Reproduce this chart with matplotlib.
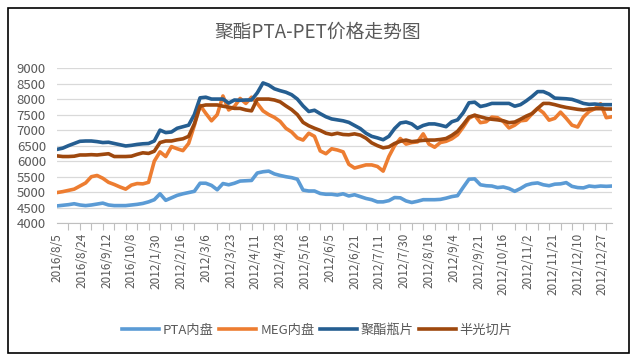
import numpy as np
import matplotlib
matplotlib.use("Agg")
import matplotlib.pyplot as plt
from matplotlib.patches import Rectangle

plt.rcParams["font.family"] = ["Noto Sans CJK SC", "DejaVu Sans"]

# Tick labels (one every 13 trading days)
date_labels = [
    "2016/8/5", "2016/8/24", "2016/9/12", "2016/10/8", "2012/1/30",
    "2012/2/16", "2012/3/6", "2012/3/23", "2012/4/11", "2012/4/28",
    "2012/5/16", "2012/6/5", "2012/6/21", "2012/7/11", "2012/7/30",
    "2012/8/16", "2012/9/4", "2012/9/21", "2012/10/16", "2012/11/2",
    "2012/11/21", "2012/12/10", "2012/12/27",
]

# Prices, one value every 3 trading days
pta = [
    4560, 4580, 4600, 4630, 4590, 4570, 4590, 4620, 4650, 4590,
    4570, 4570, 4570, 4590, 4610, 4640, 4690, 4760, 4950, 4740,
    4820, 4900, 4950, 4990, 5030, 5290, 5290, 5220, 5080, 5280,
    5240, 5290, 5360, 5370, 5380, 5620, 5660, 5680, 5590, 5540,
    5500, 5470, 5420, 5070, 5040, 5040, 4960, 4935, 4935, 4910,
    4950, 4880, 4920, 4860, 4800, 4760, 4690, 4690, 4730, 4830,
    4820, 4720, 4670, 4710, 4760, 4760, 4760, 4770, 4810, 4860,
    4890, 5160, 5420, 5430, 5240, 5210, 5200, 5150, 5170, 5120,
    5030, 5120, 5230, 5280, 5300, 5240, 5210, 5260, 5270, 5310,
    5190, 5150, 5140, 5200, 5180, 5200, 5190, 5200,
]

meg = [
    4990, 5020, 5060, 5100, 5200, 5300, 5500, 5540, 5450, 5320,
    5250, 5170, 5100, 5230, 5280, 5270, 5320, 6000, 6300, 6150,
    6470, 6400, 6340, 6570, 7150, 7800, 7540, 7300, 7500, 8100,
    7650, 7760, 8020, 7860, 8060, 7860, 7620, 7500, 7410, 7280,
    7060, 6940, 6750, 6680, 6900, 6800, 6330, 6240, 6400, 6360,
    6300, 5900, 5780, 5830, 5880, 5880, 5830, 5680, 6150, 6500,
    6730, 6550, 6600, 6620, 6880, 6550, 6450, 6600, 6640, 6720,
    6850, 7100, 7380, 7480, 7240, 7270, 7420, 7400, 7280, 7070,
    7160, 7300, 7320, 7520, 7700, 7560, 7320, 7380, 7580, 7380,
    7160, 7100, 7420, 7600, 7690, 7850, 7400, 7430,
]

bottle = [
    6380, 6420, 6500, 6570, 6640, 6650, 6650, 6630, 6600, 6610,
    6570, 6530, 6490, 6510, 6540, 6560, 6570, 6650, 7000, 6920,
    6940, 7060, 7110, 7160, 7500, 8040, 8060, 8000, 8000, 8000,
    7870, 7970, 7960, 7970, 7970, 8200, 8520, 8450, 8330, 8270,
    8220, 8140, 8000, 7780, 7600, 7640, 7530, 7430, 7360, 7330,
    7300, 7250, 7150, 7050, 6900, 6800, 6750, 6690, 6800, 7050,
    7230, 7260, 7200, 7060, 7150, 7200, 7200, 7160, 7110, 7270,
    7330, 7560, 7880, 7900, 7760, 7800, 7860, 7860, 7860, 7860,
    7770, 7820, 7940, 8080, 8240, 8240, 8160, 8030, 8020, 8010,
    7990, 7930, 7860, 7830, 7840, 7820, 7820, 7820,
]

chip = [
    6170, 6150, 6150, 6160, 6200, 6200, 6210, 6200, 6220, 6240,
    6150, 6150, 6150, 6160, 6220, 6270, 6250, 6320, 6600, 6650,
    6650, 6690, 6720, 6800, 7200, 7770, 7810, 7810, 7810, 7770,
    7740, 7700, 7700, 7650, 7620, 8000, 8000, 8000, 7970, 7910,
    7780, 7660, 7500, 7250, 7140, 7060, 6990, 6900, 6860, 6900,
    6860, 6850, 6880, 6840, 6740, 6590, 6500, 6430, 6460, 6570,
    6640, 6680, 6630, 6650, 6670, 6680, 6680, 6700, 6730, 6830,
    6960, 7180, 7420, 7480, 7430, 7380, 7350, 7330, 7300, 7240,
    7260, 7350, 7450, 7530, 7700, 7860, 7860, 7820, 7770, 7730,
    7700, 7670, 7650, 7680, 7690, 7690, 7680, 7680,
]

series_names = ["PTA内盘", "MEG内盘", "聚酯瓶片", "半光切片"]
series_colors = ["#5B9BD5", "#ED7D31", "#255E91", "#9E480E"]

day = np.arange(len(pta)) * 3

fig = plt.figure(figsize=(6.35, 3.6), dpi=100)
ax = fig.add_axes([0.0898, 0.3797, 0.874, 0.4314])

for vals, name, col in zip([pta, meg, bottle, chip], series_names, series_colors):
    ax.plot(day, vals, color=col, lw=2.6, label=name, solid_joinstyle="round")

ax.set_xlim(0, 291)
ax.set_ylim(4000, 9000)
ax.set_yticks(np.arange(4000, 9001, 500))
ax.grid(axis="y", color="#D9D9D9", lw=0.9)
ax.set_axisbelow(True)

ax.set_xticks(np.arange(len(date_labels)) * 13)
ax.set_xticklabels(date_labels, rotation=90)
ax.set_xticks(np.arange(0, 292, 6), minor=True)
ax.tick_params(axis="x", which="major", length=0, pad=7, labelsize=8.5,
               labelcolor="#595959")
ax.tick_params(axis="x", which="minor", length=5, color="#BFBFBF", width=0.8)
ax.tick_params(axis="y", length=0, pad=8, labelsize=9.5, labelcolor="#595959")

for s in ["top", "right", "left"]:
    ax.spines[s].set_visible(False)
ax.spines["bottom"].set_color("#BFBFBF")
ax.spines["bottom"].set_linewidth(0.8)

fig.suptitle("聚酯PTA-PET价格走势图", x=0.5, y=0.94, fontsize=13.5, color="#595959")

fig.legend(loc="center", bbox_to_anchor=(0.5, 0.083), ncol=4, frameon=False,
           fontsize=9.5, handlelength=2.8, columnspacing=0.4, handletextpad=0.3,
           labelcolor="#595959")

fig.patches.append(Rectangle((0.0126, 0.0194), 0.978, 0.958, transform=fig.transFigure,
                             fill=False, edgecolor="black", lw=1.2))

fig.savefig("out.png", dpi=100)
